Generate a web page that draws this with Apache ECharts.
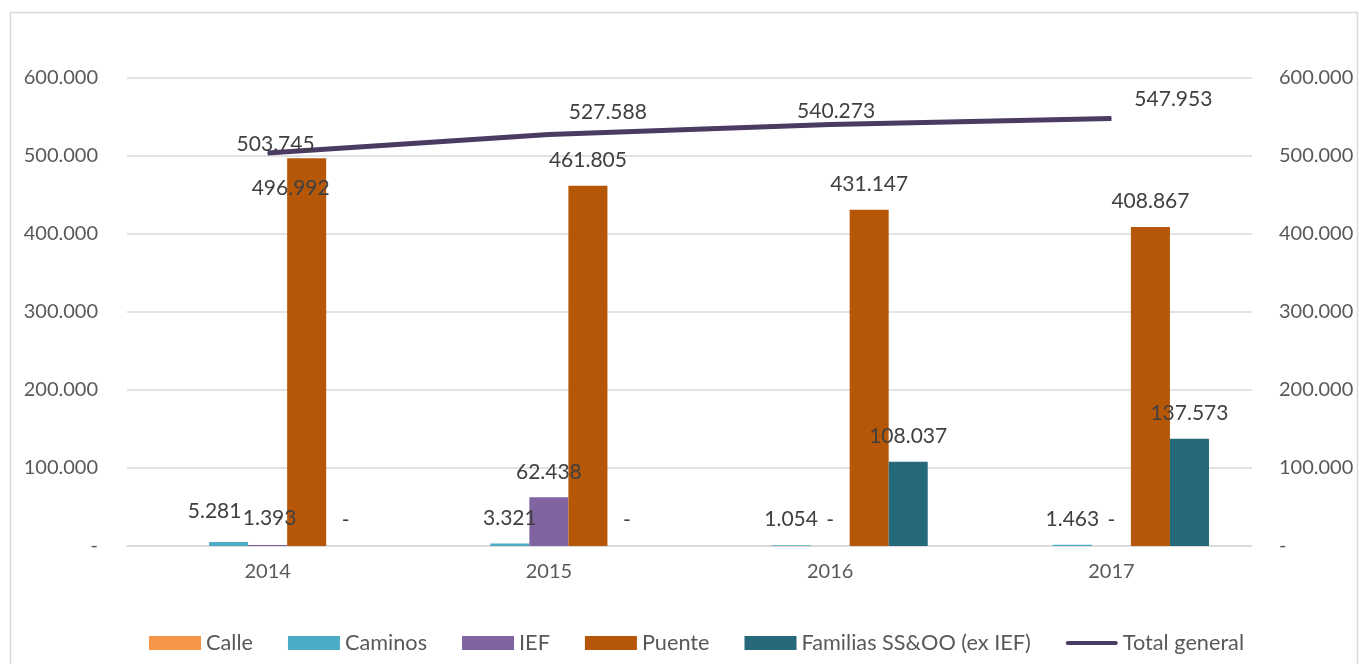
<!DOCTYPE html>
<html>
<head>
<meta charset="utf-8">
<script src="https://cdn.jsdelivr.net/npm/echarts@6/dist/echarts.min.js"></script>
<style>
html,body{margin:0;padding:0;background:#fff;}
#chart{width:1359px;height:664px;}
</style>
</head>
<body>
<div id="chart"></div>
<script>
// ---- data ----
const categories = ['2014', '2015', '2016', '2017'];
const calle    = [79, 24, 35, 50];
const caminos  = [5281, 3321, 1054, 1463];
const ief      = [1393, 62438, 0, 0];
const puente   = [496992, 461805, 431147, 408867];
const familias = [0, 0, 108037, 137573];
const total    = [503745, 527588, 540273, 547953];
const yTicks   = [0, 100000, 200000, 300000, 400000, 500000, 600000];

// ---- styling ----
const FONT = 'Lato';
function fmt(v) {
  if (v === 0) return '-';
  return String(v).replace(/\B(?=(\d{3})+(?!\d))/g, '.');
}
const labelBase = {
  show: true, position: 'top', distance: 15,
  fontFamily: FONT, fontSize: 21, color: '#404040',
  formatter: p => fmt(p.value)
};
function withOffsets(arr, offsets) {
  return arr.map((v, i) => offsets[i] ? { value: v, label: { offset: offsets[i] } } : v);
}
const caminosOff = { 0: [-14, -5] };
const iefOff = { 0: [2, -1] };
const puenteOff = { 0: [-16, 55] };
const totalOff = { 0: [8, 8], 1: [59, -5], 2: [6, 4], 3: [62, -2] };

function barSeries(name, data, color, offsets, showLabel) {
  return {
    name, type: 'bar', data: withOffsets(data, offsets || {}),
    barGap: '0%', barCategoryGap: '30.6%',
    itemStyle: { color },
    label: Object.assign({}, labelBase, { show: showLabel !== false }),
    yAxisIndex: 0
  };
}

const chart = echarts.init(document.getElementById('chart'));
chart.setOption({
  animation: false,
  textStyle: { fontFamily: FONT },
  graphic: [{
    type: 'rect', shape: { x: 10.5, y: 12.5, width: 1347, height: 700 },
    style: { fill: 'none', stroke: '#d9d9d9', lineWidth: 1.5 }, silent: true
  }],
  grid: { left: 127, right: 107, top: 78, bottom: 118 },
  legend: {
    top: 632, left: 149, itemWidth: 52, itemHeight: 14, itemGap: 35, padding: 0,
    textStyle: { fontFamily: FONT, fontSize: 21.7, color: '#595959' },
    data: [
      { name: 'Calle', icon: 'rect' },
      { name: 'Caminos', icon: 'rect' },
      { name: 'IEF', icon: 'rect' },
      { name: 'Puente', icon: 'rect' },
      { name: 'Familias SS&OO (ex IEF)', icon: 'rect' },
      { name: 'Total general', icon: 'path://M2,0 L54,0 A2,2 0 0 1 54,4.5 L2,4.5 A2,2 0 0 1 2,0 Z' }
    ]
  },
  xAxis: {
    type: 'category', data: categories,
    axisLine: { lineStyle: { color: '#d9d9d9', width: 1.5 } },
    axisTick: { show: false },
    axisLabel: { fontFamily: FONT, fontSize: 20, color: '#595959', margin: 16 }
  },
  yAxis: [{
    type: 'value', min: yTicks[0], max: yTicks[yTicks.length - 1], interval: 100000,
    axisLine: { show: false }, axisTick: { show: false },
    splitLine: { lineStyle: { color: '#d9d9d9', width: 1.5 } },
    axisLabel: { fontFamily: FONT, fontSize: 20, color: '#595959', margin: 29, formatter: fmt }
  }, {
    type: 'value', min: yTicks[0], max: yTicks[yTicks.length - 1], interval: 100000,
    axisLine: { show: false }, axisTick: { show: false }, splitLine: { show: false },
    axisLabel: { fontFamily: FONT, fontSize: 20, color: '#595959', margin: 27, formatter: fmt }
  }],
  series: [
    barSeries('Calle', calle, '#F79646', null, false),
    barSeries('Caminos', caminos, '#4BACC6', caminosOff),
    barSeries('IEF', ief, '#8064A2', iefOff),
    barSeries('Puente', puente, '#B65708', puenteOff),
    barSeries('Familias SS&OO (ex IEF)', familias, '#25697A'),
    {
      name: 'Total general', type: 'line', yAxisIndex: 1,
      data: withOffsets(total, totalOff),
      symbol: 'circle', symbolSize: 1, showSymbol: true,
      lineStyle: { color: '#4A3B63', width: 5 },
      itemStyle: { color: '#4A3B63' },
      label: Object.assign({}, labelBase, { distance: 6 }),
      z: 5
    }
  ]
});
</script>
</body>
</html>
